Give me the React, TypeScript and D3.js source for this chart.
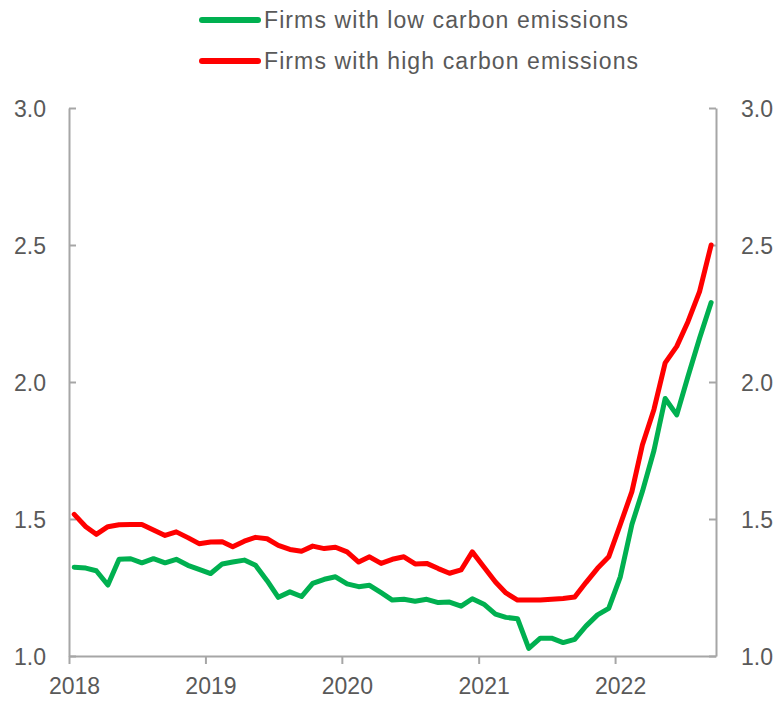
import { useCallback, useEffect, useRef } from 'react';

import { axisBottom, axisLeft, axisRight, line, scaleLinear, scaleTime, select, timeMonth } from 'd3';

// monthly observations, Jan 2018 - Sep 2022
const firstMonth = new Date(2018, 0, 1);
const lastMonth = new Date(2022, 8, 1);

const lowCarbon = [
  1.324, 1.321, 1.311, 1.259, 1.353, 1.355, 1.34, 1.355, 1.34, 1.353, 1.331, 1.316,
  1.301, 1.336, 1.343, 1.35, 1.331, 1.275, 1.214, 1.234, 1.217, 1.265, 1.28, 1.289,
  1.263, 1.253, 1.258, 1.231, 1.204, 1.207, 1.2, 1.207, 1.195, 1.197, 1.182, 1.209,
  1.189, 1.153, 1.141, 1.136, 1.028, 1.065, 1.065, 1.049, 1.061, 1.109, 1.15, 1.174,
  1.289, 1.48, 1.6, 1.75, 1.94, 1.88, 2.02, 2.16, 2.29,
];

const highCarbon = [
  1.517, 1.472, 1.444, 1.472, 1.479, 1.48, 1.48, 1.46, 1.44, 1.453, 1.432, 1.41,
  1.416, 1.417, 1.399, 1.419, 1.433, 1.428, 1.404, 1.389, 1.382, 1.401, 1.392, 1.397,
  1.38, 1.343, 1.362, 1.338, 1.353, 1.362, 1.336, 1.338, 1.319, 1.302, 1.314, 1.38,
  1.325, 1.27, 1.23, 1.204, 1.204, 1.204, 1.207, 1.21, 1.215, 1.268, 1.32, 1.362,
  1.48, 1.6, 1.77, 1.9, 2.07, 2.13, 2.22, 2.33, 2.5,
];

const yearTicks = [2018, 2019, 2020, 2021, 2022];
const valueTicks = [1.0, 1.5, 2.0, 2.5, 3.0];

const seriesNames = ['Firms with low carbon emissions', 'Firms with high carbon emissions'];
const seriesColors = ['#00b050', '#ff0000'];

export default function App() {
  const containerRef = useRef<HTMLDivElement>(null);

  const initChart = useCallback(() => {
    const container = containerRef.current;
    if (!container) return;

    const width = 779,
      height = 702,
      left = 69,
      right = 716,
      top = 108,
      bottom = 656;

    const div = select(container);
    div.select('svg').remove();

    const svg = div
      .append('svg')
      .attr('width', width)
      .attr('height', height)
      .style('position', 'absolute')
      .style('left', 0)
      .style('top', 0)
      .style('background', 'white');

    const font = '"Liberation Sans", Arial, sans-serif';
    const axisColor = '#a6a6a6';
    const textColor = '#595959';

    const months = timeMonth.range(firstMonth, timeMonth.offset(lastMonth, 1));
    const mid = (d: Date) => new Date(d.getFullYear(), d.getMonth(), 15);

    const x = scaleTime()
      .domain([new Date(2018, 0, 1), new Date(2022, 8, 28)])
      .range([left, right]);
    const y = scaleLinear().domain([1, 3]).range([bottom, top]);

    // axes
    const styleAxis = (g: any) => {
      g.select('.domain').attr('stroke', axisColor).attr('stroke-width', 2);
      g.selectAll('.tick line').attr('stroke', axisColor).attr('stroke-width', 2);
      g.selectAll('text')
        .attr('fill', textColor)
        .attr('font-family', font)
        .attr('font-size', 23);
    };

    svg
      .append('g')
      .attr('transform', `translate(${left},0)`)
      .call(
        axisLeft(y)
          .tickValues(valueTicks)
          .tickFormat((d) => Number(d).toFixed(1))
          .tickSize(-7)
          .tickSizeOuter(0)
          .tickPadding(23),
      )
      .call(styleAxis)
      .call((g) => g.selectAll('text').attr('dy', '0.36em'));

    svg
      .append('g')
      .attr('transform', `translate(${right},0)`)
      .call(
        axisRight(y)
          .tickValues(valueTicks)
          .tickFormat((d) => Number(d).toFixed(1))
          .tickSize(-7)
          .tickSizeOuter(0)
          .tickPadding(25),
      )
      .call(styleAxis)
      .call((g) => g.selectAll('text').attr('dy', '0.36em'));

    svg
      .append('g')
      .attr('transform', `translate(0,${bottom})`)
      .call(
        axisBottom(x)
          .tickValues(yearTicks.map((yr) => new Date(yr, 0, 1)))
          .tickFormat((d) => String((d as Date).getFullYear()))
          .tickSize(8)
          .tickSizeOuter(0)
          .tickPadding(14),
      )
      .call(styleAxis)
      .call((g) => g.selectAll('text').attr('dx', 5));

    // lines
    const d3Line = line<number>()
      .x((_, i) => x(mid(months[i])))
      .y((d) => y(d));

    [lowCarbon, highCarbon].forEach((values, i) => {
      svg
        .append('path')
        .datum(values)
        .attr('fill', 'none')
        .attr('stroke', seriesColors[i])
        .attr('stroke-width', 5)
        .attr('stroke-linejoin', 'round')
        .attr('stroke-linecap', 'round')
        .attr('d', d3Line);
    });

    // legend
    const legend = svg.append('g').attr('class', 'legend');
    seriesNames.forEach((name, i) => {
      const ly = 20 + i * 41;
      legend
        .append('line')
        .attr('x1', 202)
        .attr('x2', 258)
        .attr('y1', ly)
        .attr('y2', ly)
        .attr('stroke', seriesColors[i])
        .attr('stroke-width', 6)
        .attr('stroke-linecap', 'round');
      legend
        .append('text')
        .attr('x', 264)
        .attr('y', ly + 8)
        .attr('font-family', font)
        .attr('font-size', 23)
        .attr('letter-spacing', 1.1)
        .attr('fill', textColor)
        .text(name);
    });
  }, []);

  const destroyChart = useCallback(() => {
    const container = containerRef.current;
    if (!container) return;

    select(container).select('svg').remove();
  }, []);

  useEffect(() => {
    initChart();
    return destroyChart;
  }, [destroyChart, initChart]);

  return <div ref={containerRef} />;
}
